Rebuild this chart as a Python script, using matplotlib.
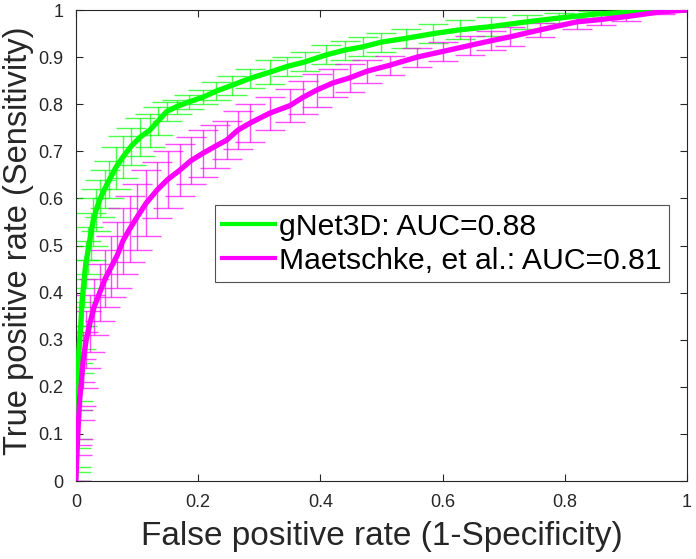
import numpy as np
import matplotlib
matplotlib.use("Agg")
from matplotlib import pyplot as plt

# gNet3D mean ROC with std error bars
gnet_fpr = [0.000, 0.001, 0.002, 0.003, 0.005, 0.008, 0.010, 0.013, 0.016, 0.020,
            0.024, 0.028, 0.033, 0.040, 0.047, 0.055, 0.065, 0.077, 0.090, 0.105,
            0.121, 0.135, 0.149, 0.165, 0.185, 0.208, 0.230, 0.255, 0.285, 0.317,
            0.345, 0.375, 0.410, 0.440, 0.470, 0.500, 0.540, 0.585, 0.628, 0.680,
            0.738, 0.790, 0.846, 0.900, 0.950, 1.000]
gnet_tpr = [0.010, 0.050, 0.120, 0.210, 0.280, 0.330, 0.380, 0.420, 0.460, 0.490,
            0.520, 0.550, 0.575, 0.600, 0.620, 0.640, 0.665, 0.688, 0.710, 0.730,
            0.745, 0.765, 0.785, 0.795, 0.805, 0.815, 0.828, 0.840, 0.855, 0.868,
            0.880, 0.890, 0.905, 0.915, 0.922, 0.932, 0.940, 0.950, 0.958, 0.965,
            0.975, 0.983, 0.991, 0.995, 0.998, 1.000]
gnet_err = [0.010, 0.020, 0.030, 0.040, 0.050, 0.050, 0.050, 0.050, 0.050, 0.050,
            0.050, 0.050, 0.045, 0.040, 0.040, 0.040, 0.045, 0.045, 0.040, 0.040,
            0.035, 0.030, 0.020, 0.015, 0.015, 0.015, 0.020, 0.020, 0.020, 0.025,
            0.020, 0.020, 0.020, 0.020, 0.020, 0.020, 0.020, 0.020, 0.020, 0.020,
            0.015, 0.010, 0.008, 0.005, 0.003, 0.000]

# Maetschke et al. mean ROC with std error bars
maet_fpr = [0.000, 0.002, 0.004, 0.006, 0.009, 0.012, 0.017, 0.023, 0.030, 0.039,
            0.048, 0.058, 0.068, 0.077, 0.088, 0.100, 0.115, 0.133, 0.150, 0.170,
            0.188, 0.208, 0.227, 0.247, 0.265, 0.285, 0.317, 0.350, 0.372, 0.394,
            0.420, 0.448, 0.476, 0.514, 0.558, 0.600, 0.645, 0.680, 0.710, 0.760,
            0.820, 0.860, 0.900, 0.956, 1.000]
maet_tpr = [0.000, 0.066, 0.120, 0.170, 0.210, 0.257, 0.300, 0.335, 0.370, 0.400,
            0.430, 0.455, 0.480, 0.510, 0.535, 0.560, 0.590, 0.618, 0.640, 0.660,
            0.680, 0.696, 0.710, 0.724, 0.745, 0.760, 0.781, 0.797, 0.815, 0.830,
            0.845, 0.856, 0.870, 0.883, 0.900, 0.912, 0.925, 0.935, 0.943, 0.958,
            0.975, 0.980, 0.986, 0.996, 1.000]
maet_err = [0.000, 0.010, 0.030, 0.040, 0.050, 0.060, 0.060, 0.060, 0.060, 0.060,
            0.060, 0.065, 0.070, 0.070, 0.070, 0.070, 0.070, 0.060, 0.060, 0.055,
            0.050, 0.050, 0.045, 0.040, 0.040, 0.040, 0.035, 0.035, 0.035, 0.035,
            0.030, 0.030, 0.025, 0.020, 0.020, 0.020, 0.020, 0.020, 0.020, 0.015,
            0.015, 0.012, 0.010, 0.005, 0.000]

labels = ["gNet3D: AUC=0.88", "Maetschke, et al.: AUC=0.81"]
colors = ["#00ff00", "#ff00ff"]

plt.rcParams['font.family'] = ['Liberation Sans', 'DejaVu Sans']
axcol = "#262626"

fig = plt.figure(figsize=(6.96, 5.59), dpi=100)
ax = fig.add_axes([0.109, 0.1395, 0.878, 0.8425])

series = [(gnet_fpr, gnet_tpr, gnet_err), (maet_fpr, maet_tpr, maet_err)]
handles = []
for (fx, ty, er), col in zip(series, colors):
    ax.errorbar(fx, ty, yerr=er, fmt='none', ecolor=col, elinewidth=1.0,
                capsize=11, capthick=1.0, alpha=0.7, zorder=2)
for (fx, ty, er), col, lab in zip(series, colors, labels):
    h, = ax.plot(fx, ty, color=col, lw=3.8, label=lab, zorder=3,
                 solid_joinstyle='round')
    handles.append(h)

ax.set_xlim(0, 1)
ax.set_ylim(0, 1)
ax.set_xticks(np.arange(0, 1.01, 0.2))
ax.set_yticks(np.arange(0, 1.01, 0.1))
ax.set_xticklabels(["0", "0.2", "0.4", "0.6", "0.8", "1"])
ax.set_yticklabels(["0"] + ["%.1f" % v for v in np.arange(0.1, 0.95, 0.1)] + ["1"])
ax.tick_params(direction='in', top=True, right=True, length=5, width=0.8,
               labelsize=13, colors=axcol, pad=9)
for s in ax.spines.values():
    s.set_color(axcol)
    s.set_linewidth(0.8)

ax.set_xlabel("False positive rate (1-Specificity)", fontsize=24, color=axcol)
ax.set_ylabel("True positive rate (Sensitivity)", fontsize=23.5, color=axcol)
ax.xaxis.set_label_coords(0.5, -0.085)
ax.yaxis.set_label_coords(-0.069, 0.51)

leg = ax.legend(handles=handles, loc='upper left', bbox_to_anchor=(0.2275, 0.586),
                fontsize=21.7, handlelength=1.75, frameon=True, fancybox=False,
                borderpad=0.25, labelspacing=0.2, handletextpad=0.12, borderaxespad=0)
leg.get_frame().set_edgecolor(axcol)
leg.get_frame().set_linewidth(0.8)
for ln in leg.get_lines():
    ln.set_linewidth(3)

fig.savefig("out.png", dpi=100)
